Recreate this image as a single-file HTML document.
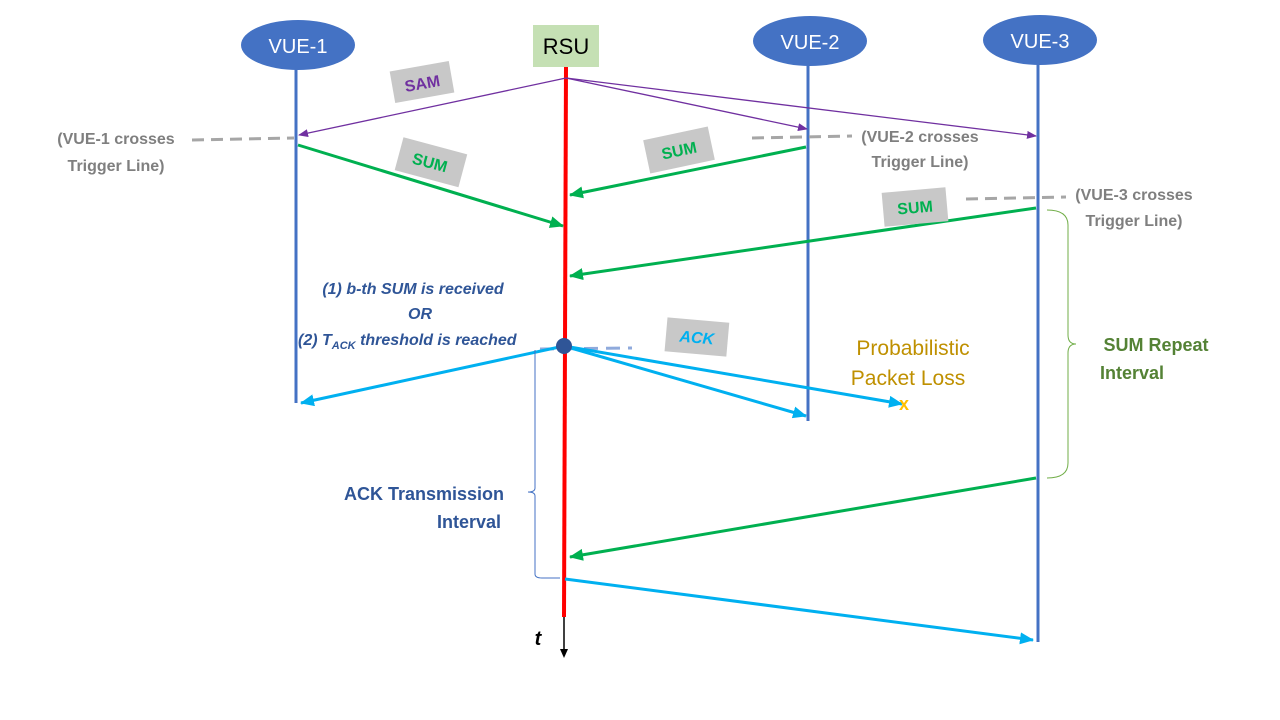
<!DOCTYPE html>
<html><head><meta charset="utf-8"><style>body{margin:0;background:#fff}svg{display:block;font-family:"Liberation Sans",sans-serif}</style></head><body>
<svg width="1280" height="720" viewBox="0 0 1280 720">
<defs>
<marker id="ap" markerWidth="10" markerHeight="8" refX="9" refY="4" orient="auto" markerUnits="userSpaceOnUse"><path d="M0,0L10,4L0,8z" fill="#7030a0"/></marker>
<marker id="ag" markerWidth="14" markerHeight="12" refX="13" refY="6" orient="auto" markerUnits="userSpaceOnUse"><path d="M0,0L14,6L0,12z" fill="#00b050"/></marker>
<marker id="ab" markerWidth="14" markerHeight="12" refX="13" refY="6" orient="auto" markerUnits="userSpaceOnUse"><path d="M0,0L14,6L0,12z" fill="#00b0f0"/></marker>
</defs>
<line x1="296" y1="66" x2="296" y2="403" stroke="#4472c4" stroke-width="3"/>
<line x1="808" y1="64" x2="808" y2="421" stroke="#4472c4" stroke-width="3"/>
<line x1="1038" y1="63" x2="1038" y2="642" stroke="#4472c4" stroke-width="3"/>
<line x1="564" y1="615" x2="564" y2="650" stroke="#000" stroke-width="1.5"/>
<path d="M560,649L568,649L564,658z" fill="#000"/>
<line x1="566" y1="67" x2="564" y2="617" stroke="#ff0000" stroke-width="4"/>
<ellipse cx="298" cy="45" rx="57" ry="25" fill="#4472c4"/>
<text x="298" y="53" font-size="20" fill="#fff" text-anchor="middle">VUE-1</text>
<ellipse cx="810" cy="41" rx="57" ry="25" fill="#4472c4"/>
<text x="810" y="49" font-size="20" fill="#fff" text-anchor="middle">VUE-2</text>
<ellipse cx="1040" cy="40" rx="57" ry="25" fill="#4472c4"/>
<text x="1040" y="48" font-size="20" fill="#fff" text-anchor="middle">VUE-3</text>
<rect x="533" y="25" width="66" height="42" fill="#c5e0b4"/>
<text x="566" y="54" font-size="22" fill="#000" text-anchor="middle">RSU</text>
<g stroke="#7030a0" stroke-width="1.3" marker-end="url(#ap)">
<line x1="566" y1="78" x2="299" y2="135"/>
<line x1="566" y1="78" x2="807" y2="129"/>
<line x1="566" y1="78" x2="1036" y2="136"/>
</g>
<g stroke="#a6a6a6" stroke-width="3" stroke-dasharray="12,7">
<line x1="192" y1="140" x2="294" y2="138"/>
<line x1="752" y1="138" x2="852" y2="136"/>
<line x1="966" y1="199" x2="1066" y2="197"/>
</g>
<g stroke="#00b050" stroke-width="3" marker-end="url(#ag)">
<line x1="298" y1="145" x2="563" y2="226"/>
<line x1="806" y1="147" x2="570" y2="195"/>
<line x1="1036" y1="208" x2="570" y2="276"/>
<line x1="1036" y1="478" x2="570" y2="557"/>
</g>
<line x1="540" y1="349" x2="632" y2="348" stroke="#8faadc" stroke-width="3" stroke-dasharray="14,8"/>
<g stroke="#00b0f0" stroke-width="3" marker-end="url(#ab)">
<line x1="564" y1="346" x2="301" y2="403"/>
<line x1="564" y1="346" x2="806" y2="416"/>
<line x1="564" y1="346" x2="902" y2="404"/>
<line x1="565" y1="579" x2="1033" y2="640"/>
</g>
<circle cx="564" cy="346" r="8" fill="#2f5597"/>
<text x="904" y="410" font-size="18" fill="#ffc000" text-anchor="middle" font-weight="bold">x</text>
<path d="M535,350 V488 Q535,492 528,492 Q535,492 535,496 V574 Q535,578 542,578 H560" fill="none" stroke="#4472c4" stroke-width="1"/>
<path d="M1047,210 Q1068,210 1068,225 V335 Q1068,344 1076,344 Q1068,344 1068,353 V463 Q1068,478 1047,478" fill="none" stroke="#70ad47" stroke-width="1"/>
<g font-weight="bold" font-size="16">
<g transform="rotate(-10 422 82)"><rect x="392" y="66" width="60" height="32" fill="#c8c8c8"/><text x="422" y="89" fill="#7030a0" text-anchor="middle">SAM</text></g>
<g transform="rotate(15 430 162)"><rect x="398" y="145" width="66" height="34" fill="#c8c8c8"/><text x="430" y="168" fill="#00b050" text-anchor="middle">SUM</text></g>
<g transform="rotate(-12 679 150)"><rect x="646" y="133" width="66" height="34" fill="#c8c8c8"/><text x="679" y="156" fill="#00b050" text-anchor="middle">SUM</text></g>
<g transform="rotate(-5 915 207)"><rect x="883" y="190" width="64" height="34" fill="#c8c8c8"/><text x="915" y="213" fill="#00b050" text-anchor="middle">SUM</text></g>
<g transform="rotate(5 697 336)"><rect x="666" y="320" width="62" height="34" fill="#c8c8c8"/><text x="697" y="343" fill="#00b0f0" text-anchor="middle" font-style="italic">ACK</text></g>
<g fill="#7f7f7f">
<text x="116" y="144" text-anchor="middle">(VUE-1 crosses</text>
<text x="116" y="171" text-anchor="middle">Trigger Line)</text>
<text x="920" y="142" text-anchor="middle">(VUE-2 crosses</text>
<text x="920" y="167" text-anchor="middle">Trigger Line)</text>
<text x="1134" y="200" text-anchor="middle">(VUE-3 crosses</text>
<text x="1134" y="226" text-anchor="middle">Trigger Line)</text>
</g>
<g fill="#2f5597" font-style="italic">
<text x="413" y="294" text-anchor="middle">(1) b-th SUM is received</text>
<text x="420" y="319" text-anchor="middle">OR</text>
<text x="298" y="345">(2) T<tspan font-size="11" dy="4">ACK</tspan><tspan dy="-4"> threshold  is reached</tspan></text>
</g>
<text x="424" y="500" fill="#2f5597" text-anchor="middle" font-size="18">ACK Transmission</text>
<text x="469" y="528" fill="#2f5597" text-anchor="middle" font-size="18">Interval</text>
<text x="1156" y="351" fill="#548235" text-anchor="middle" font-size="18">SUM Repeat</text>
<text x="1132" y="379" fill="#548235" text-anchor="middle" font-size="18">Interval</text>
<text x="538" y="645" fill="#000" font-style="italic" font-size="20" text-anchor="middle">t</text>
</g>
<text x="913" y="355" fill="#bf9000" font-size="21" text-anchor="middle">Probabilistic</text>
<text x="908" y="385" fill="#bf9000" font-size="21" text-anchor="middle">Packet Loss</text>
</svg>
</body></html>
